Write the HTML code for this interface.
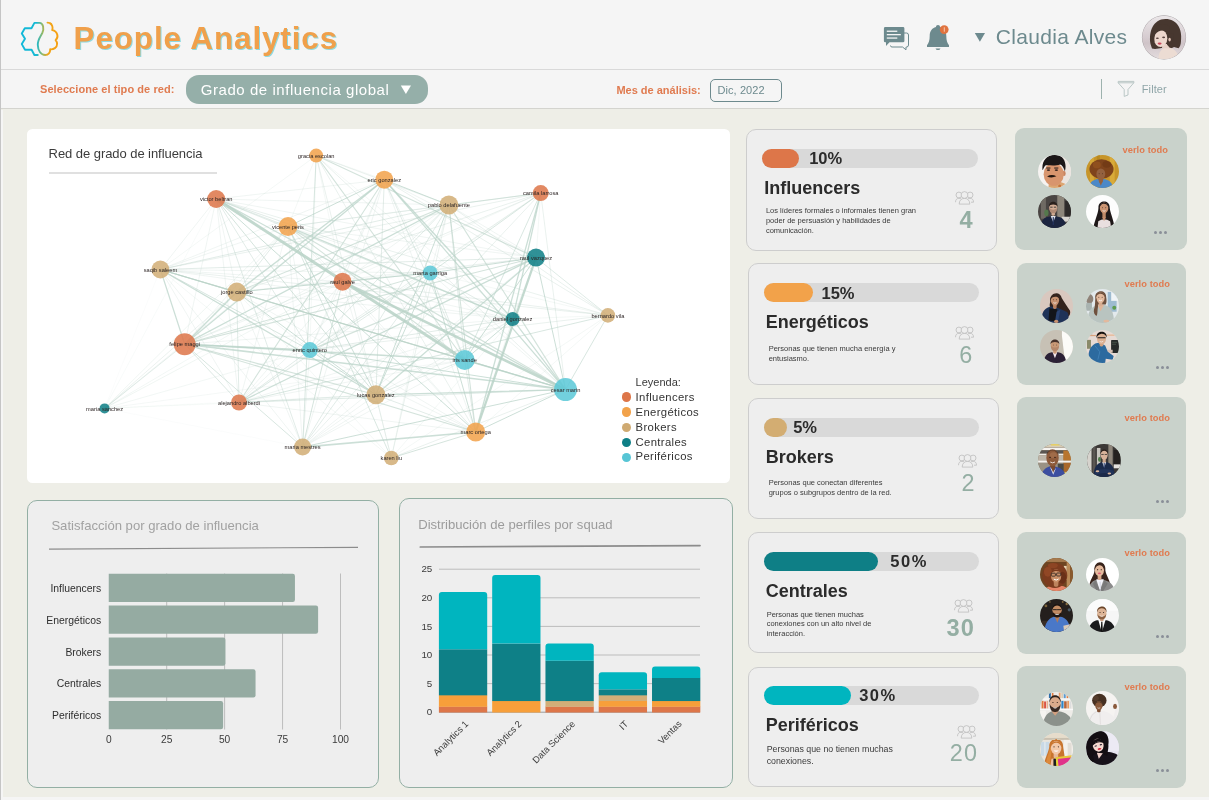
<!DOCTYPE html><html><head><meta charset="utf-8"><title>People Analytics</title><style>
*{box-sizing:border-box;margin:0;padding:0}
html,body{width:1209px;height:800px;overflow:hidden}
body{background:#eeeee7;font-family:"Liberation Sans",sans-serif;position:relative;color:#333}
#root{position:absolute;left:0;top:0;width:1209px;height:800px;will-change:transform}
.abs{position:absolute}
.t{position:absolute;white-space:nowrap;line-height:1}
#hdr{left:0;top:0;width:1209px;height:69.6px;background:#f5f5f5;border-bottom:1px solid #d9d9d9}
#sub{left:0;top:69.6px;width:1209px;height:39.4px;background:#f5f5f5;border-bottom:1px solid #d4d4cf}
#lb{left:0;top:0;width:1.05px;height:800px;background:#c5c5c5}
#lb2{left:1px;top:109.6px;width:2px;height:691px;background:#f5f5f5}
#bb{left:0;top:797.2px;width:1209px;height:3px;background:#f5f5f5}
.panel{position:absolute;background:#eeeeee;border:1px solid #93afa4;border-radius:10px}
.card{position:absolute;background:#eeeeee;border:1px solid #cdcdcd;border-radius:10px}
.avp{position:absolute;background:#c9d2cb;border-radius:9px}
.track{position:absolute;height:19.5px;border-radius:10px;background:#d9d9d9}
.fill{position:absolute;height:19.5px;border-radius:9.5px}
.pct{font-size:16.5px;font-weight:700;color:#2b2b2b}
.ttl{font-size:18px;font-weight:700;color:#2b2b2b}
.desc{position:absolute;font-size:7.5px;line-height:9.8px;color:#3a3a3a;white-space:nowrap}
.num{color:#94aea3}
.verlo{font-size:9.3px;font-weight:700;color:#e07b50;letter-spacing:.08px}
.dot{position:absolute;width:3px;height:3px;border-radius:50%;background:#8a8f98}
.face{position:absolute;border-radius:50%;overflow:hidden}
</style></head><body><div id="root">
<div class="abs" id="hdr"></div><div class="abs" id="sub"></div>
<svg class="abs" style="left:15px;top:15px" width="50" height="47" viewBox="15 15 50 47" fill="none">
<defs><linearGradient id="lg" gradientUnits="userSpaceOnUse" x1="21" y1="0" x2="58" y2="0">
<stop offset="0" stop-color="#12b8d9"/><stop offset=".42" stop-color="#18b9d3"/><stop offset=".58" stop-color="#93b866"/><stop offset=".72" stop-color="#f0a51a"/><stop offset="1" stop-color="#f6a013"/></linearGradient></defs>
<path d="M37.8 55 H34.4 L31.6 49.7 H25 L21.8 44.1 L25 38.8 L21.8 33.5 L24.8 28.2 H31.5 L34.4 22.9 H39.5 C43.5 23 44.2 29 42.3 33 C40.5 36.5 37.6 39.5 37.8 45 C38 51 41 55 45.2 55 C48.5 55 50.3 52.5 50.2 49.3 C53.5 49.8 57.2 47.5 57.1 43.9 C57.1 42.3 56.3 41.1 55.6 40.2 C57.3 38.8 57.8 36.8 57.3 34.8 C56.6 32 54.6 30.4 52.2 30.1 C53.2 27.5 52.2 24 49.6 23 C48.9 22.7 48.2 22.6 47.5 22.6" stroke="url(#lg)" stroke-width="1.9" stroke-linecap="round" stroke-linejoin="round"/>
</svg>
<div class="t" style="left:73.6px;top:22.6px;font-size:31.4px;font-weight:700;letter-spacing:.9px;color:#f0a04b;text-shadow:1px 1.2px 0 #8fd9e0">People Analytics</div>
<svg class="abs" style="left:880px;top:22px" width="34" height="32" viewBox="880 22 34 32">
<path d="M890 33 H906.5 Q908.5 33 908.5 35 V45 Q908.5 47 906.5 47 H906 V49.8 L902.5 47 H892 Q890.5 47 890.5 45.5" fill="none" stroke="#6d8a8e" stroke-width="1"/>
<path d="M885.3 27 H903 Q904.4 27 904.4 28.4 V40.9 Q904.4 42.3 903 42.3 H889.5 L886 46 V42.3 H885.3 Q883.9 42.3 883.9 40.9 V28.4 Q883.9 27 885.3 27 Z" fill="#6d8a8e"/>
<rect x="886.8" y="30.6" width="10.5" height="1.3" fill="#f5f5f5"/><rect x="886.8" y="34" width="14" height="1.3" fill="#f5f5f5"/><rect x="886.8" y="37.4" width="10.5" height="1.3" fill="#f5f5f5"/>
</svg>
<svg class="abs" style="left:924px;top:22px" width="30" height="32" viewBox="924 22 30 32">
<path d="M938 25 C939.3 25 940 25.8 940 27 C944.2 28 946.3 31.5 946.3 36 C946.3 40.5 947.3 43 949 45.3 V47 H927 V45.3 C928.7 43 929.7 40.5 929.7 36 C929.7 31.5 931.8 28 936 27 C936 25.8 936.7 25 938 25 Z" fill="#6d8a8e"/>
<path d="M935.5 48.4 H940.5 Q940 49.9 938 49.9 Q936 49.9 935.5 48.4 Z" fill="#6d8a8e"/>
<circle cx="944.2" cy="29.6" r="4.4" fill="#e0733f"/><rect x="943.8" y="27.3" width="1" height="4.4" fill="#f7c9b0"/>
</svg>
<svg class="abs" style="left:974px;top:32px" width="12" height="11"><path d="M0.8 0.9 H11 L5.9 9.7 Z" fill="#6d8a8e"/></svg>
<div class="t" style="left:995.8px;top:26px;font-size:21px;letter-spacing:.34px;color:#6d8a8e">Claudia Alves</div>
<svg class="abs" style="left:1141px;top:14px" width="46" height="47" viewBox="0 0 46 47">
<defs><clipPath id="cpa"><circle cx="23" cy="23.35" r="21.7"/></clipPath>
<linearGradient id="abg" x1="0" y1="0" x2="0" y2="1"><stop offset="0" stop-color="#ece8ea"/><stop offset=".5" stop-color="#d6ccd0"/><stop offset=".62" stop-color="#cfc4c8"/><stop offset="1" stop-color="#e6dfe1"/></linearGradient></defs>
<circle cx="23" cy="23.35" r="22.05" fill="#a39da0"/>
<g clip-path="url(#cpa)"><rect width="46" height="47" fill="url(#abg)"/>
<path d="M9.5 30 C7.5 18 12 5 24.5 5 C36 5 41.5 15 40 27 C39.8 30.5 39 33 37.5 34.2 L33 33 L29 35 L24 33.5 L14 35 L11 34.5 Z" fill="#47372f"/>
<path d="M17.5 47 C17 39 20 33.5 27 33.6 C33 33.8 37 38 38.5 47 Z" fill="#ecdcd3"/>
<path d="M21 34 C21 31 23 29.5 26 30 L29 34.5 Z" fill="#e6d0c6"/>
<ellipse cx="19.6" cy="24.3" rx="6.7" ry="8.6" fill="#edd7cd"/>
<path d="M11.5 23 C11 14 17 9.5 25 10.5 C30 11.5 29 17 27.5 19 C24 15.5 17.5 15.5 14.2 20.5 C13.5 22 13.2 25 13.4 28 L11.8 28 Z" fill="#47372f"/>
<path d="M26.3 19 C27.5 22 27.5 27 26 31 L31 33 L33 20 Z" fill="#47372f"/>
<ellipse cx="28.6" cy="25.6" rx="1.2" ry="1.9" fill="#e3c4b8"/>
<ellipse cx="16.4" cy="24.3" rx="1.5" ry=".8" fill="#5a4440"/><ellipse cx="22.6" cy="23.4" rx="1.5" ry=".8" fill="#5a4440"/>
<ellipse cx="18.6" cy="29.6" rx="2" ry="1.15" fill="#c8485a"/>
</g></svg>
<div class="t" style="left:40px;top:84.1px;font-size:11px;font-weight:700;letter-spacing:.07px;color:#e07b50">Seleccione el tipo de red:</div>
<div class="abs" style="left:186px;top:75px;width:241.5px;height:28.5px;border-radius:13px;background:#95afa9"></div>
<div class="t" style="left:200.8px;top:82px;font-size:15px;letter-spacing:.55px;color:#fff">Grado de influencia global</div>
<svg class="abs" style="left:400px;top:85px" width="12" height="10"><path d="M0.8 0.5 H11 L5.9 9 Z" fill="#fff"/></svg>
<div class="t" style="left:616.4px;top:85.3px;font-size:11px;font-weight:700;color:#e07b50">Mes de análisis:</div>
<div class="abs" style="left:710px;top:78.6px;width:71.5px;height:23.2px;border:1px solid #6d8a8e;border-radius:5px"></div>
<div class="t" style="left:717.4px;top:85.1px;font-size:11px;letter-spacing:.1px;color:#6d8a8e">Dic, 2022</div>
<div class="abs" style="left:1101px;top:79px;width:1px;height:20px;background:#9db2ae"></div>
<svg class="abs" style="left:1116px;top:80px" width="20" height="18" viewBox="1116 80 20 18" fill="none"><path d="M1118.2 81.4 H1133.8 V82.8 L1128 89.5 V95 L1124.2 96.4 V89.5 L1118.2 82.8 Z M1118.2 82.8 H1133.8" stroke="#b3c2c1" stroke-width=".9"/></svg>
<div class="t" style="left:1141.8px;top:83.6px;font-size:11px;letter-spacing:.1px;color:#8fa5a8">Filter</div>
<div class="abs" id="bb"></div><div class="abs" id="lb2"></div><div class="abs" id="lb"></div>
<div class="abs" style="left:27px;top:128.5px;width:702.8px;height:354.3px;background:#fff;border-radius:5.5px"></div>
<svg class="abs" style="left:27px;top:129px" width="703" height="354" viewBox="27 129 703 354">
<g stroke="#b9d2c7" stroke-linecap="round" fill="none">
<path d="M316.2 155.6L384.3 179.7" stroke-width="0.6" stroke-opacity="0.27"/>
<path d="M316.2 155.6L448.9 205" stroke-width="0.8" stroke-opacity="0.39"/>
<path d="M316.2 155.6L288 226.6" stroke-width="0.6" stroke-opacity="0.27"/>
<path d="M316.2 155.6L160.4 269.5" stroke-width="0.6" stroke-opacity="0.27"/>
<path d="M316.2 155.6L342.5 281.7" stroke-width="0.6" stroke-opacity="0.27"/>
<path d="M316.2 155.6L512.6 319.1" stroke-width="0.6" stroke-opacity="0.27"/>
<path d="M316.2 155.6L309.8 350.1" stroke-width="0.6" stroke-opacity="0.27"/>
<path d="M316.2 155.6L565.5 389.6" stroke-width="0.8" stroke-opacity="0.39"/>
<path d="M316.2 155.6L475.7 432" stroke-width="0.8" stroke-opacity="0.39"/>
<path d="M316.2 155.6L302.6 447.1" stroke-width="1.0" stroke-opacity="0.54"/>
<path d="M316.2 155.6L391.3 458" stroke-width="0.8" stroke-opacity="0.39"/>
<path d="M384.3 179.7L216.2 199" stroke-width="0.6" stroke-opacity="0.36"/>
<path d="M384.3 179.7L448.9 205" stroke-width="1.0" stroke-opacity="0.72"/>
<path d="M384.3 179.7L288 226.6" stroke-width="1.0" stroke-opacity="0.72"/>
<path d="M384.3 179.7L536 257.6" stroke-width="0.6" stroke-opacity="0.36"/>
<path d="M384.3 179.7L160.4 269.5" stroke-width="0.6" stroke-opacity="0.36"/>
<path d="M384.3 179.7L430.2 273" stroke-width="0.6" stroke-opacity="0.36"/>
<path d="M384.3 179.7L342.5 281.7" stroke-width="0.6" stroke-opacity="0.36"/>
<path d="M384.3 179.7L607.9 315.4" stroke-width="0.8" stroke-opacity="0.39"/>
<path d="M384.3 179.7L309.8 350.1" stroke-width="0.6" stroke-opacity="0.36"/>
<path d="M384.3 179.7L464.7 360" stroke-width="0.8" stroke-opacity="0.52"/>
<path d="M384.3 179.7L375.9 394.8" stroke-width="0.8" stroke-opacity="0.52"/>
<path d="M384.3 179.7L104.6 408.4" stroke-width="0.6" stroke-opacity="0.3"/>
<path d="M384.3 179.7L475.7 432" stroke-width="0.6" stroke-opacity="0.36"/>
<path d="M384.3 179.7L302.6 447.1" stroke-width="0.6" stroke-opacity="0.36"/>
<path d="M216.2 199L448.9 205" stroke-width="0.6" stroke-opacity="0.36"/>
<path d="M216.2 199L288 226.6" stroke-width="0.8" stroke-opacity="0.52"/>
<path d="M216.2 199L536 257.6" stroke-width="0.6" stroke-opacity="0.36"/>
<path d="M216.2 199L160.4 269.5" stroke-width="0.6" stroke-opacity="0.36"/>
<path d="M216.2 199L430.2 273" stroke-width="0.8" stroke-opacity="0.52"/>
<path d="M216.2 199L342.5 281.7" stroke-width="0.6" stroke-opacity="0.36"/>
<path d="M216.2 199L236.8 292.1" stroke-width="0.6" stroke-opacity="0.36"/>
<path d="M216.2 199L512.6 319.1" stroke-width="0.8" stroke-opacity="0.52"/>
<path d="M216.2 199L607.9 315.4" stroke-width="0.8" stroke-opacity="0.39"/>
<path d="M216.2 199L184.7 344.2" stroke-width="0.6" stroke-opacity="0.36"/>
<path d="M216.2 199L309.8 350.1" stroke-width="0.8" stroke-opacity="0.52"/>
<path d="M216.2 199L239 402.5" stroke-width="0.6" stroke-opacity="0.36"/>
<path d="M216.2 199L104.6 408.4" stroke-width="0.5" stroke-opacity="0.2"/>
<path d="M216.2 199L475.7 432" stroke-width="1.0" stroke-opacity="0.72"/>
<path d="M216.2 199L302.6 447.1" stroke-width="0.8" stroke-opacity="0.52"/>
<path d="M448.9 205L540.7 193.1" stroke-width="1.0" stroke-opacity="0.54"/>
<path d="M448.9 205L288 226.6" stroke-width="0.6" stroke-opacity="0.36"/>
<path d="M448.9 205L536 257.6" stroke-width="0.6" stroke-opacity="0.36"/>
<path d="M448.9 205L160.4 269.5" stroke-width="0.8" stroke-opacity="0.52"/>
<path d="M448.9 205L430.2 273" stroke-width="0.6" stroke-opacity="0.36"/>
<path d="M448.9 205L342.5 281.7" stroke-width="0.6" stroke-opacity="0.36"/>
<path d="M448.9 205L607.9 315.4" stroke-width="0.8" stroke-opacity="0.39"/>
<path d="M448.9 205L309.8 350.1" stroke-width="0.8" stroke-opacity="0.52"/>
<path d="M448.9 205L464.7 360" stroke-width="0.8" stroke-opacity="0.52"/>
<path d="M448.9 205L375.9 394.8" stroke-width="1.0" stroke-opacity="0.72"/>
<path d="M448.9 205L239 402.5" stroke-width="0.6" stroke-opacity="0.36"/>
<path d="M448.9 205L104.6 408.4" stroke-width="0.6" stroke-opacity="0.3"/>
<path d="M448.9 205L302.6 447.1" stroke-width="0.8" stroke-opacity="0.52"/>
<path d="M448.9 205L391.3 458" stroke-width="0.8" stroke-opacity="0.39"/>
<path d="M540.7 193.1L288 226.6" stroke-width="0.8" stroke-opacity="0.39"/>
<path d="M540.7 193.1L536 257.6" stroke-width="0.6" stroke-opacity="0.27"/>
<path d="M540.7 193.1L160.4 269.5" stroke-width="0.8" stroke-opacity="0.39"/>
<path d="M540.7 193.1L430.2 273" stroke-width="1.0" stroke-opacity="0.54"/>
<path d="M540.7 193.1L342.5 281.7" stroke-width="0.6" stroke-opacity="0.27"/>
<path d="M540.7 193.1L236.8 292.1" stroke-width="0.8" stroke-opacity="0.39"/>
<path d="M540.7 193.1L184.7 344.2" stroke-width="0.8" stroke-opacity="0.39"/>
<path d="M540.7 193.1L309.8 350.1" stroke-width="0.8" stroke-opacity="0.39"/>
<path d="M540.7 193.1L464.7 360" stroke-width="1.0" stroke-opacity="0.54"/>
<path d="M540.7 193.1L565.5 389.6" stroke-width="0.8" stroke-opacity="0.39"/>
<path d="M540.7 193.1L239 402.5" stroke-width="0.6" stroke-opacity="0.27"/>
<path d="M540.7 193.1L302.6 447.1" stroke-width="0.8" stroke-opacity="0.39"/>
<path d="M288 226.6L536 257.6" stroke-width="0.6" stroke-opacity="0.36"/>
<path d="M288 226.6L160.4 269.5" stroke-width="0.6" stroke-opacity="0.36"/>
<path d="M288 226.6L430.2 273" stroke-width="0.6" stroke-opacity="0.36"/>
<path d="M288 226.6L342.5 281.7" stroke-width="0.6" stroke-opacity="0.36"/>
<path d="M288 226.6L236.8 292.1" stroke-width="0.8" stroke-opacity="0.52"/>
<path d="M288 226.6L184.7 344.2" stroke-width="0.6" stroke-opacity="0.36"/>
<path d="M288 226.6L309.8 350.1" stroke-width="0.6" stroke-opacity="0.36"/>
<path d="M288 226.6L375.9 394.8" stroke-width="1.0" stroke-opacity="0.72"/>
<path d="M288 226.6L239 402.5" stroke-width="0.6" stroke-opacity="0.36"/>
<path d="M288 226.6L104.6 408.4" stroke-width="0.6" stroke-opacity="0.35"/>
<path d="M288 226.6L475.7 432" stroke-width="0.6" stroke-opacity="0.36"/>
<path d="M288 226.6L302.6 447.1" stroke-width="0.6" stroke-opacity="0.36"/>
<path d="M288 226.6L391.3 458" stroke-width="1.0" stroke-opacity="0.54"/>
<path d="M536 257.6L160.4 269.5" stroke-width="0.8" stroke-opacity="0.52"/>
<path d="M536 257.6L430.2 273" stroke-width="1.0" stroke-opacity="0.72"/>
<path d="M536 257.6L342.5 281.7" stroke-width="0.6" stroke-opacity="0.36"/>
<path d="M536 257.6L236.8 292.1" stroke-width="0.6" stroke-opacity="0.36"/>
<path d="M536 257.6L512.6 319.1" stroke-width="0.6" stroke-opacity="0.36"/>
<path d="M536 257.6L464.7 360" stroke-width="1.0" stroke-opacity="0.72"/>
<path d="M536 257.6L565.5 389.6" stroke-width="1.0" stroke-opacity="0.72"/>
<path d="M536 257.6L302.6 447.1" stroke-width="0.6" stroke-opacity="0.36"/>
<path d="M160.4 269.5L430.2 273" stroke-width="0.6" stroke-opacity="0.36"/>
<path d="M160.4 269.5L342.5 281.7" stroke-width="0.6" stroke-opacity="0.36"/>
<path d="M160.4 269.5L512.6 319.1" stroke-width="0.6" stroke-opacity="0.36"/>
<path d="M160.4 269.5L607.9 315.4" stroke-width="0.8" stroke-opacity="0.39"/>
<path d="M160.4 269.5L239 402.5" stroke-width="0.6" stroke-opacity="0.36"/>
<path d="M160.4 269.5L104.6 408.4" stroke-width="0.5" stroke-opacity="0.12"/>
<path d="M160.4 269.5L302.6 447.1" stroke-width="0.6" stroke-opacity="0.36"/>
<path d="M160.4 269.5L391.3 458" stroke-width="0.6" stroke-opacity="0.27"/>
<path d="M430.2 273L342.5 281.7" stroke-width="0.8" stroke-opacity="0.52"/>
<path d="M430.2 273L236.8 292.1" stroke-width="1.0" stroke-opacity="0.72"/>
<path d="M430.2 273L512.6 319.1" stroke-width="0.8" stroke-opacity="0.52"/>
<path d="M430.2 273L607.9 315.4" stroke-width="0.6" stroke-opacity="0.27"/>
<path d="M430.2 273L309.8 350.1" stroke-width="0.8" stroke-opacity="0.52"/>
<path d="M430.2 273L464.7 360" stroke-width="0.8" stroke-opacity="0.52"/>
<path d="M430.2 273L565.5 389.6" stroke-width="0.6" stroke-opacity="0.36"/>
<path d="M430.2 273L375.9 394.8" stroke-width="1.0" stroke-opacity="0.72"/>
<path d="M430.2 273L239 402.5" stroke-width="0.8" stroke-opacity="0.52"/>
<path d="M430.2 273L475.7 432" stroke-width="1.0" stroke-opacity="0.72"/>
<path d="M430.2 273L302.6 447.1" stroke-width="0.8" stroke-opacity="0.52"/>
<path d="M430.2 273L391.3 458" stroke-width="0.6" stroke-opacity="0.27"/>
<path d="M342.5 281.7L236.8 292.1" stroke-width="0.6" stroke-opacity="0.36"/>
<path d="M342.5 281.7L512.6 319.1" stroke-width="0.6" stroke-opacity="0.36"/>
<path d="M342.5 281.7L607.9 315.4" stroke-width="0.8" stroke-opacity="0.39"/>
<path d="M342.5 281.7L184.7 344.2" stroke-width="0.6" stroke-opacity="0.36"/>
<path d="M342.5 281.7L309.8 350.1" stroke-width="0.6" stroke-opacity="0.36"/>
<path d="M342.5 281.7L464.7 360" stroke-width="0.6" stroke-opacity="0.36"/>
<path d="M342.5 281.7L375.9 394.8" stroke-width="0.6" stroke-opacity="0.36"/>
<path d="M342.5 281.7L239 402.5" stroke-width="0.6" stroke-opacity="0.36"/>
<path d="M342.5 281.7L104.6 408.4" stroke-width="0.6" stroke-opacity="0.35"/>
<path d="M342.5 281.7L475.7 432" stroke-width="0.6" stroke-opacity="0.36"/>
<path d="M236.8 292.1L512.6 319.1" stroke-width="0.6" stroke-opacity="0.36"/>
<path d="M236.8 292.1L309.8 350.1" stroke-width="0.6" stroke-opacity="0.36"/>
<path d="M236.8 292.1L375.9 394.8" stroke-width="1.0" stroke-opacity="0.72"/>
<path d="M236.8 292.1L239 402.5" stroke-width="0.8" stroke-opacity="0.52"/>
<path d="M236.8 292.1L104.6 408.4" stroke-width="0.7" stroke-opacity="0.4"/>
<path d="M236.8 292.1L475.7 432" stroke-width="0.6" stroke-opacity="0.36"/>
<path d="M236.8 292.1L302.6 447.1" stroke-width="0.6" stroke-opacity="0.36"/>
<path d="M236.8 292.1L391.3 458" stroke-width="0.6" stroke-opacity="0.27"/>
<path d="M512.6 319.1L607.9 315.4" stroke-width="0.6" stroke-opacity="0.27"/>
<path d="M512.6 319.1L184.7 344.2" stroke-width="0.6" stroke-opacity="0.36"/>
<path d="M512.6 319.1L309.8 350.1" stroke-width="0.8" stroke-opacity="0.52"/>
<path d="M512.6 319.1L464.7 360" stroke-width="1.0" stroke-opacity="0.72"/>
<path d="M512.6 319.1L375.9 394.8" stroke-width="0.6" stroke-opacity="0.36"/>
<path d="M512.6 319.1L239 402.5" stroke-width="0.6" stroke-opacity="0.36"/>
<path d="M512.6 319.1L475.7 432" stroke-width="0.6" stroke-opacity="0.36"/>
<path d="M512.6 319.1L302.6 447.1" stroke-width="0.6" stroke-opacity="0.36"/>
<path d="M512.6 319.1L391.3 458" stroke-width="0.6" stroke-opacity="0.27"/>
<path d="M607.9 315.4L309.8 350.1" stroke-width="0.8" stroke-opacity="0.39"/>
<path d="M607.9 315.4L239 402.5" stroke-width="1.0" stroke-opacity="0.54"/>
<path d="M607.9 315.4L475.7 432" stroke-width="0.6" stroke-opacity="0.27"/>
<path d="M607.9 315.4L391.3 458" stroke-width="0.6" stroke-opacity="0.27"/>
<path d="M184.7 344.2L104.6 408.4" stroke-width="0.8" stroke-opacity="0.5"/>
<path d="M309.8 350.1L464.7 360" stroke-width="0.6" stroke-opacity="0.36"/>
<path d="M309.8 350.1L565.5 389.6" stroke-width="1.0" stroke-opacity="0.72"/>
<path d="M309.8 350.1L375.9 394.8" stroke-width="1.0" stroke-opacity="0.72"/>
<path d="M309.8 350.1L239 402.5" stroke-width="0.8" stroke-opacity="0.52"/>
<path d="M309.8 350.1L104.6 408.4" stroke-width="0.6" stroke-opacity="0.3"/>
<path d="M309.8 350.1L475.7 432" stroke-width="0.6" stroke-opacity="0.36"/>
<path d="M309.8 350.1L302.6 447.1" stroke-width="0.6" stroke-opacity="0.36"/>
<path d="M464.7 360L375.9 394.8" stroke-width="0.8" stroke-opacity="0.52"/>
<path d="M464.7 360L239 402.5" stroke-width="0.6" stroke-opacity="0.36"/>
<path d="M464.7 360L104.6 408.4" stroke-width="0.6" stroke-opacity="0.25"/>
<path d="M464.7 360L475.7 432" stroke-width="0.8" stroke-opacity="0.52"/>
<path d="M464.7 360L302.6 447.1" stroke-width="0.6" stroke-opacity="0.36"/>
<path d="M565.5 389.6L239 402.5" stroke-width="0.8" stroke-opacity="0.52"/>
<path d="M565.5 389.6L104.6 408.4" stroke-width="0.5" stroke-opacity="0.15"/>
<path d="M565.5 389.6L475.7 432" stroke-width="1.0" stroke-opacity="0.72"/>
<path d="M565.5 389.6L302.6 447.1" stroke-width="1.0" stroke-opacity="0.72"/>
<path d="M565.5 389.6L391.3 458" stroke-width="0.8" stroke-opacity="0.39"/>
<path d="M375.9 394.8L239 402.5" stroke-width="0.8" stroke-opacity="0.52"/>
<path d="M375.9 394.8L104.6 408.4" stroke-width="0.5" stroke-opacity="0.15"/>
<path d="M375.9 394.8L475.7 432" stroke-width="0.8" stroke-opacity="0.52"/>
<path d="M375.9 394.8L302.6 447.1" stroke-width="0.6" stroke-opacity="0.36"/>
<path d="M375.9 394.8L391.3 458" stroke-width="0.6" stroke-opacity="0.27"/>
<path d="M239 402.5L104.6 408.4" stroke-width="0.5" stroke-opacity="0.15"/>
<path d="M239 402.5L475.7 432" stroke-width="0.6" stroke-opacity="0.36"/>
<path d="M104.6 408.4L302.6 447.1" stroke-width="0.5" stroke-opacity="0.12"/>
<path d="M316.2 155.6L536 257.6" stroke-width="1.15" stroke-opacity="0.62"/>
<path d="M316.2 155.6L464.7 360" stroke-width="1.07" stroke-opacity="0.62"/>
<path d="M384.3 179.7L236.8 292.1" stroke-width="1.39" stroke-opacity="0.72"/>
<path d="M384.3 179.7L512.6 319.1" stroke-width="1.48" stroke-opacity="0.72"/>
<path d="M384.3 179.7L184.7 344.2" stroke-width="1.23" stroke-opacity="0.72"/>
<path d="M384.3 179.7L565.5 389.6" stroke-width="1.23" stroke-opacity="0.72"/>
<path d="M384.3 179.7L239 402.5" stroke-width="1.07" stroke-opacity="0.62"/>
<path d="M216.2 199L464.7 360" stroke-width="3.0" stroke-opacity="0.85"/>
<path d="M216.2 199L565.5 389.6" stroke-width="1.31" stroke-opacity="0.72"/>
<path d="M216.2 199L375.9 394.8" stroke-width="0.98" stroke-opacity="0.62"/>
<path d="M448.9 205L236.8 292.1" stroke-width="1.07" stroke-opacity="0.62"/>
<path d="M448.9 205L184.7 344.2" stroke-width="1.31" stroke-opacity="0.72"/>
<path d="M448.9 205L565.5 389.6" stroke-width="1.15" stroke-opacity="0.62"/>
<path d="M448.9 205L475.7 432" stroke-width="1.07" stroke-opacity="0.62"/>
<path d="M540.7 193.1L512.6 319.1" stroke-width="1.31" stroke-opacity="0.72"/>
<path d="M540.7 193.1L475.7 432" stroke-width="1.31" stroke-opacity="0.72"/>
<path d="M288 226.6L512.6 319.1" stroke-width="1.31" stroke-opacity="0.72"/>
<path d="M288 226.6L464.7 360" stroke-width="1.07" stroke-opacity="0.62"/>
<path d="M288 226.6L565.5 389.6" stroke-width="1.15" stroke-opacity="0.62"/>
<path d="M536 257.6L607.9 315.4" stroke-width="0.74" stroke-opacity="0.62"/>
<path d="M536 257.6L184.7 344.2" stroke-width="1.07" stroke-opacity="0.62"/>
<path d="M536 257.6L309.8 350.1" stroke-width="1.15" stroke-opacity="0.62"/>
<path d="M536 257.6L375.9 394.8" stroke-width="1.23" stroke-opacity="0.72"/>
<path d="M536 257.6L239 402.5" stroke-width="1.23" stroke-opacity="0.72"/>
<path d="M536 257.6L475.7 432" stroke-width="2.2" stroke-opacity="0.85"/>
<path d="M160.4 269.5L236.8 292.1" stroke-width="1.23" stroke-opacity="0.72"/>
<path d="M160.4 269.5L184.7 344.2" stroke-width="1.23" stroke-opacity="0.72"/>
<path d="M160.4 269.5L309.8 350.1" stroke-width="0.9" stroke-opacity="0.62"/>
<path d="M160.4 269.5L464.7 360" stroke-width="1.15" stroke-opacity="0.62"/>
<path d="M160.4 269.5L565.5 389.6" stroke-width="0.98" stroke-opacity="0.62"/>
<path d="M160.4 269.5L375.9 394.8" stroke-width="1.31" stroke-opacity="0.72"/>
<path d="M430.2 273L184.7 344.2" stroke-width="0.98" stroke-opacity="0.62"/>
<path d="M342.5 281.7L565.5 389.6" stroke-width="2.6" stroke-opacity="0.85"/>
<path d="M342.5 281.7L302.6 447.1" stroke-width="0.98" stroke-opacity="0.62"/>
<path d="M236.8 292.1L184.7 344.2" stroke-width="1.48" stroke-opacity="0.72"/>
<path d="M236.8 292.1L565.5 389.6" stroke-width="1.07" stroke-opacity="0.62"/>
<path d="M512.6 319.1L565.5 389.6" stroke-width="1.23" stroke-opacity="0.72"/>
<path d="M607.9 315.4L565.5 389.6" stroke-width="0.9" stroke-opacity="0.62"/>
<path d="M184.7 344.2L309.8 350.1" stroke-width="1.64" stroke-opacity="0.72"/>
<path d="M184.7 344.2L464.7 360" stroke-width="1.31" stroke-opacity="0.72"/>
<path d="M184.7 344.2L565.5 389.6" stroke-width="1.64" stroke-opacity="0.72"/>
<path d="M184.7 344.2L375.9 394.8" stroke-width="1.15" stroke-opacity="0.62"/>
<path d="M184.7 344.2L239 402.5" stroke-width="0.82" stroke-opacity="0.62"/>
<path d="M184.7 344.2L475.7 432" stroke-width="1.07" stroke-opacity="0.62"/>
<path d="M184.7 344.2L302.6 447.1" stroke-width="0.9" stroke-opacity="0.62"/>
<path d="M464.7 360L565.5 389.6" stroke-width="1.31" stroke-opacity="0.72"/>
<path d="M565.5 389.6L375.9 394.8" stroke-width="1.31" stroke-opacity="0.72"/>
<path d="M475.7 432L302.6 447.1" stroke-width="1.64" stroke-opacity="0.72"/>
<path d="M475.7 432L391.3 458" stroke-width="0.98" stroke-opacity="0.62"/>
</g>
<circle cx="316.2" cy="155.6" r="7" fill="#f2a24a" fill-opacity=".86"/>
<circle cx="384.3" cy="179.7" r="9" fill="#f2a24a" fill-opacity=".86"/>
<circle cx="216.2" cy="199" r="9" fill="#dd7649" fill-opacity=".86"/>
<circle cx="448.9" cy="205" r="9.5" fill="#d2ad76" fill-opacity=".86"/>
<circle cx="540.7" cy="193.1" r="8" fill="#dd7649" fill-opacity=".86"/>
<circle cx="288" cy="226.6" r="9.5" fill="#f2a24a" fill-opacity=".86"/>
<circle cx="536" cy="257.6" r="9" fill="#0e7f86" fill-opacity=".86"/>
<circle cx="160.4" cy="269.5" r="9" fill="#d2ad76" fill-opacity=".86"/>
<circle cx="430.2" cy="273" r="7.5" fill="#5bc8d7" fill-opacity=".86"/>
<circle cx="342.5" cy="281.7" r="9" fill="#dd7649" fill-opacity=".86"/>
<circle cx="236.8" cy="292.1" r="9.5" fill="#d2ad76" fill-opacity=".86"/>
<circle cx="512.6" cy="319.1" r="7" fill="#0e7f86" fill-opacity=".86"/>
<circle cx="607.9" cy="315.4" r="7.3" fill="#d2ad76" fill-opacity=".86"/>
<circle cx="184.7" cy="344.2" r="11" fill="#dd7649" fill-opacity=".86"/>
<circle cx="309.8" cy="350.1" r="8" fill="#5bc8d7" fill-opacity=".86"/>
<circle cx="464.7" cy="360" r="10" fill="#5bc8d7" fill-opacity=".86"/>
<circle cx="565.5" cy="389.6" r="11.5" fill="#5bc8d7" fill-opacity=".86"/>
<circle cx="375.9" cy="394.8" r="9.5" fill="#d2ad76" fill-opacity=".86"/>
<circle cx="239" cy="402.5" r="8" fill="#dd7649" fill-opacity=".86"/>
<circle cx="104.6" cy="408.4" r="5" fill="#0e7f86" fill-opacity=".86"/>
<circle cx="475.7" cy="432" r="9.5" fill="#f2a24a" fill-opacity=".86"/>
<circle cx="302.6" cy="447.1" r="8.5" fill="#d2ad76" fill-opacity=".86"/>
<circle cx="391.3" cy="458" r="7.3" fill="#d2ad76" fill-opacity=".86"/>
<g font-family="Liberation Sans, sans-serif" font-size="5.7" fill="#2e2626" text-anchor="middle">
<text x="316.2" y="157.7">gracia escolan</text>
<text x="384.3" y="181.79999999999998">eric gonzalez</text>
<text x="216.2" y="201.1">victor beltran</text>
<text x="448.9" y="207.1">pablo delafuente</text>
<text x="540.7" y="195.2">camila larrosa</text>
<text x="288" y="228.7">vicente peris</text>
<text x="536" y="259.70000000000005">raul vazquez</text>
<text x="160.4" y="271.6">saqib saleem</text>
<text x="430.2" y="275.1">marta garriga</text>
<text x="342.5" y="283.8">raul galve</text>
<text x="236.8" y="294.20000000000005">jorge castillo</text>
<text x="512.6" y="321.20000000000005">daniel gonzalez</text>
<text x="607.9" y="317.5">bernardo vila</text>
<text x="184.7" y="346.3">felipe maggi</text>
<text x="309.8" y="352.20000000000005">enric quintero</text>
<text x="464.7" y="362.1">iris sande</text>
<text x="565.5" y="391.70000000000005">cesar marin</text>
<text x="375.9" y="396.90000000000003">lucas gonzalez</text>
<text x="239" y="404.6">alejandro alberdi</text>
<text x="104.6" y="410.5">maria sanchez</text>
<text x="475.7" y="434.1">marc ortega</text>
<text x="302.6" y="449.20000000000005">maria mestres</text>
<text x="391.3" y="460.1">karen liu</text>
</g></svg>
<div class="t" style="left:48.6px;top:147.4px;font-size:13px;letter-spacing:-.06px;color:#3c3c3c">Red de grado de influencia</div>
<div class="abs" style="left:49px;top:172.3px;width:168px;height:1.6px;background:#e0e0e0"></div>
<div class="t" style="left:635.6px;top:376.8px;font-size:11px;letter-spacing:0;color:#3a3a3a">Leyenda:</div>
<div class="abs" style="left:621.8px;top:392.3px;width:9.4px;height:9.4px;border-radius:50%;background:#dd7649"></div>
<div class="t" style="left:635.6px;top:391.9px;font-size:11.3px;letter-spacing:.35px;color:#333">Influencers</div>
<div class="abs" style="left:621.8px;top:407.45px;width:9.4px;height:9.4px;border-radius:50%;background:#f2a24a"></div>
<div class="t" style="left:635.6px;top:407.04999999999995px;font-size:11.3px;letter-spacing:.35px;color:#333">Energéticos</div>
<div class="abs" style="left:621.8px;top:422.6px;width:9.4px;height:9.4px;border-radius:50%;background:#cfaa72"></div>
<div class="t" style="left:635.6px;top:422.04999999999995px;font-size:11.3px;letter-spacing:.35px;color:#333">Brokers</div>
<div class="abs" style="left:621.8px;top:437.75px;width:9.4px;height:9.4px;border-radius:50%;background:#0e7f86"></div>
<div class="t" style="left:635.6px;top:437.15px;font-size:11.3px;letter-spacing:.35px;color:#333">Centrales</div>
<div class="abs" style="left:621.8px;top:452.90000000000003px;width:9.4px;height:9.4px;border-radius:50%;background:#57c5d5"></div>
<div class="t" style="left:635.6px;top:451.04999999999995px;font-size:11.3px;letter-spacing:.35px;color:#333">Periféricos</div>
<div class="panel" style="left:27px;top:499.5px;width:351.6px;height:288px"></div>
<div class="t" style="left:51.4px;top:519px;font-size:13.1px;color:#a2a2a2">Satisfacción por grado de influencia</div>
<svg class="abs" style="left:45px;top:544px" width="320" height="8"><path d="M4 5.1 L313 3.4" stroke="#8c8c8c" stroke-width="1.1" fill="none"/></svg>
<svg class="abs" style="left:27px;top:499px" width="352" height="289" viewBox="27 499 352 289">
<rect x="166.19" y="573.5" width="1" height="156" fill="#bdbdbd"/>
<rect x="224.12" y="573.5" width="1" height="156" fill="#bdbdbd"/>
<rect x="282.06" y="573.5" width="1" height="156" fill="#bdbdbd"/>
<rect x="340.00" y="573.5" width="1" height="156" fill="#bdbdbd"/>
<path d="M108.75 573.75 H292.75 Q294.95 573.75 294.95 575.95 V599.8 Q294.95 602.0 292.75 602.0 H108.75 Z" fill="#95aba2"/>
<path d="M108.75 605.5 H315.93 Q318.12 605.5 318.12 607.7 V631.55 Q318.12 633.75 315.93 633.75 H108.75 Z" fill="#95aba2"/>
<path d="M108.75 637.5 H223.23 Q225.43 637.5 225.43 639.7 V663.55 Q225.43 665.75 223.23 665.75 H108.75 Z" fill="#95aba2"/>
<path d="M108.75 669.25 H253.35 Q255.55 669.25 255.55 671.45 V695.3 Q255.55 697.5 253.35 697.5 H108.75 Z" fill="#95aba2"/>
<path d="M108.75 701.0 H220.91 Q223.11 701.0 223.11 703.2 V727.05 Q223.11 729.25 220.91 729.25 H108.75 Z" fill="#95aba2"/>
</svg>
<div class="t" style="right:1107.8px;top:583.75px;font-size:10.4px;color:#2e2e2e">Influencers</div>
<div class="t" style="right:1107.8px;top:615.5px;font-size:10.4px;color:#2e2e2e">Energéticos</div>
<div class="t" style="right:1107.8px;top:647.5px;font-size:10.4px;color:#2e2e2e">Brokers</div>
<div class="t" style="right:1107.8px;top:679.25px;font-size:10.4px;color:#2e2e2e">Centrales</div>
<div class="t" style="right:1107.8px;top:711.0px;font-size:10.4px;color:#2e2e2e">Periféricos</div>
<div class="t" style="left:88.8px;width:40px;text-align:center;top:735.3px;font-size:10.2px;color:#3a3a3a">0</div>
<div class="t" style="left:146.7px;width:40px;text-align:center;top:735.3px;font-size:10.2px;color:#3a3a3a">25</div>
<div class="t" style="left:204.6px;width:40px;text-align:center;top:735.3px;font-size:10.2px;color:#3a3a3a">50</div>
<div class="t" style="left:262.6px;width:40px;text-align:center;top:735.3px;font-size:10.2px;color:#3a3a3a">75</div>
<div class="t" style="left:320.5px;width:40px;text-align:center;top:735.3px;font-size:10.2px;color:#3a3a3a">100</div>
<div class="panel" style="left:399px;top:498px;width:333.5px;height:289.6px"></div>
<div class="t" style="left:418.2px;top:518.3px;font-size:13.1px;color:#9c9c9c">Distribución de perfiles por squad</div>
<svg class="abs" style="left:415px;top:542px" width="290" height="8"><path d="M5.3 5 L285 3.6" stroke="#8c8c8c" stroke-width="1.7" fill="none" stroke-linecap="round"/></svg>
<svg class="abs" style="left:399px;top:498px" width="334" height="290" viewBox="399 498 334 290">
<rect x="439" y="711.70" width="261" height="1" fill="#9a9a9a"/>
<rect x="439" y="683.10" width="261" height="1" fill="#bcbcbc"/>
<rect x="439" y="654.50" width="261" height="1" fill="#bcbcbc"/>
<rect x="439" y="625.90" width="261" height="1" fill="#bcbcbc"/>
<rect x="439" y="597.30" width="261" height="1" fill="#bcbcbc"/>
<rect x="439" y="568.70" width="261" height="1" fill="#bcbcbc"/>
<rect x="438.90" y="706.48" width="48.3" height="6.02" fill="#dd7649"/>
<rect x="438.90" y="695.04" width="48.3" height="11.74" fill="#f79f3a"/>
<rect x="438.90" y="649.28" width="48.3" height="46.06" fill="#0e8087"/>
<path d="M438.90 649.28 V595.08 Q438.90 592.08 441.90 592.08 H484.20 Q487.20 592.08 487.20 595.08 V649.28 Z" fill="#00b5bf"/>
<rect x="492.18" y="700.76" width="48.3" height="11.74" fill="#f79f3a"/>
<rect x="492.18" y="643.56" width="48.3" height="57.50" fill="#0e8087"/>
<path d="M492.18 643.56 V577.92 Q492.18 574.92 495.18 574.92 H537.48 Q540.48 574.92 540.48 577.92 V643.56 Z" fill="#00b5bf"/>
<rect x="545.46" y="706.48" width="48.3" height="6.02" fill="#dd7649"/>
<rect x="545.46" y="700.76" width="48.3" height="6.02" fill="#d2ae78"/>
<rect x="545.46" y="660.72" width="48.3" height="40.34" fill="#0e8087"/>
<path d="M545.46 660.72 V646.56 Q545.46 643.56 548.46 643.56 H590.76 Q593.76 643.56 593.76 646.56 V660.72 Z" fill="#00b5bf"/>
<rect x="598.74" y="706.48" width="48.3" height="6.02" fill="#dd7649"/>
<rect x="598.74" y="700.76" width="48.3" height="6.02" fill="#f79f3a"/>
<rect x="598.74" y="695.04" width="48.3" height="6.02" fill="#d2ae78"/>
<rect x="598.74" y="689.32" width="48.3" height="6.02" fill="#0e8087"/>
<path d="M598.74 689.32 V675.16 Q598.74 672.16 601.74 672.16 H644.04 Q647.04 672.16 647.04 675.16 V689.32 Z" fill="#00b5bf"/>
<rect x="652.02" y="706.48" width="48.3" height="6.02" fill="#dd7649"/>
<rect x="652.02" y="700.76" width="48.3" height="6.02" fill="#f79f3a"/>
<rect x="652.02" y="677.88" width="48.3" height="23.18" fill="#0e8087"/>
<path d="M652.02 677.88 V669.44 Q652.02 666.44 655.02 666.44 H697.32 Q700.32 666.44 700.32 669.44 V677.88 Z" fill="#00b5bf"/>
<g font-family="Liberation Sans, sans-serif" font-size="9.4" fill="#3a3a3a" text-anchor="end">
<text transform="translate(469.0 724.5) rotate(-45)">Analytics 1</text>
<text transform="translate(522.3 724.5) rotate(-45)">Analytics 2</text>
<text transform="translate(575.6 724.5) rotate(-45)">Data Science</text>
<text transform="translate(628.9 724.5) rotate(-45)">IT</text>
<text transform="translate(682.2 724.5) rotate(-45)">Ventas</text>
</g></svg>
<div class="t" style="right:776.7px;top:707.3px;font-size:9.8px;color:#3a3a3a">0</div>
<div class="t" style="right:776.7px;top:678.7px;font-size:9.8px;color:#3a3a3a">5</div>
<div class="t" style="right:776.7px;top:650.1px;font-size:9.8px;color:#3a3a3a">10</div>
<div class="t" style="right:776.7px;top:621.5px;font-size:9.8px;color:#3a3a3a">15</div>
<div class="t" style="right:776.7px;top:592.9px;font-size:9.8px;color:#3a3a3a">20</div>
<div class="t" style="right:776.7px;top:564.3px;font-size:9.8px;color:#3a3a3a">25</div>
<div class="card" style="left:746px;top:129px;width:250.8px;height:122px"></div>
<div class="track" style="left:762.2px;top:148.6px;width:215.7px"></div>
<div class="fill" style="left:762.2px;top:148.6px;width:37px;background:#dd7649"></div>
<div class="t pct" style="letter-spacing:0px;left:809.2px;top:150.0px">10%</div>
<div class="t ttl" style="left:764.2px;top:178.7px">Influencers</div>
<div class="desc" style="left:765.9px;top:206.3px;font-size:7.5px;line-height:9.9px">Los líderes formales o informales tienen gran<br>poder de persuasión y habilidades de<br>comunicación.</div>
<svg class="abs" style="left:954.6px;top:190.9px" width="19" height="14" viewBox="0 0 19 14" fill="none" stroke="#b9b9b9" stroke-width=".75"><circle cx="3.9" cy="4" r="2.9"/><circle cx="15.1" cy="4" r="2.9"/><path d="M0.5 11.2 C0.5 8.6 2 7.3 3.9 7.3 C4.8 7.3 5.5 7.5 6 7.9 M13 7.9 C13.5 7.5 14.2 7.3 15.1 7.3 C17 7.3 18.5 8.6 18.5 11.2 H16"/><circle cx="9.5" cy="4" r="3.4" fill="#eeeeee"/><path d="M4.2 13.1 C4.2 9.3 6.5 7.4 9.5 7.4 C12.5 7.4 14.8 9.3 14.8 13.1 Z" fill="#eeeeee"/></svg>
<div class="t num" style="right:236.4px;top:209.4px;font-size:23.6px;font-weight:700;letter-spacing:0px;margin-right:-0px">4</div>
<div class="card" style="left:748px;top:263.3px;width:251px;height:121.3px"></div>
<div class="track" style="left:763.7px;top:282.8px;width:215.7px"></div>
<div class="fill" style="left:763.7px;top:282.8px;width:49.5px;background:#f2a24a"></div>
<div class="t pct" style="letter-spacing:0px;left:821.5px;top:285.1px">15%</div>
<div class="t ttl" style="left:765.8px;top:313.2px">Energéticos</div>
<div class="desc" style="left:768.7px;top:344.4px;font-size:7.5px;line-height:9.5px">Personas que tienen mucha energía y<br>entusiasmo.</div>
<svg class="abs" style="left:954.6px;top:326.4px" width="19" height="14" viewBox="0 0 19 14" fill="none" stroke="#b9b9b9" stroke-width=".75"><circle cx="3.9" cy="4" r="2.9"/><circle cx="15.1" cy="4" r="2.9"/><path d="M0.5 11.2 C0.5 8.6 2 7.3 3.9 7.3 C4.8 7.3 5.5 7.5 6 7.9 M13 7.9 C13.5 7.5 14.2 7.3 15.1 7.3 C17 7.3 18.5 8.6 18.5 11.2 H16"/><circle cx="9.5" cy="4" r="3.4" fill="#eeeeee"/><path d="M4.2 13.1 C4.2 9.3 6.5 7.4 9.5 7.4 C12.5 7.4 14.8 9.3 14.8 13.1 Z" fill="#eeeeee"/></svg>
<div class="t num" style="right:236.8px;top:344.1px;font-size:23.4px;font-weight:400;letter-spacing:0px;margin-right:-0px">6</div>
<div class="card" style="left:748px;top:397.9px;width:251px;height:121.4px"></div>
<div class="track" style="left:763.7px;top:417.5px;width:215.7px"></div>
<div class="fill" style="left:763.7px;top:417.5px;width:23.7px;background:#d3ad72"></div>
<div class="t pct" style="letter-spacing:0px;left:793.2px;top:418.5px">5%</div>
<div class="t ttl" style="left:765.8px;top:447.8px">Brokers</div>
<div class="desc" style="left:768.7px;top:478.2px;font-size:7.5px;line-height:9.7px">Personas que conectan diferentes<br>grupos o subgrupos dentro de la red.</div>
<svg class="abs" style="left:957.5px;top:453.6px" width="19" height="14" viewBox="0 0 19 14" fill="none" stroke="#b9b9b9" stroke-width=".75"><circle cx="3.9" cy="4" r="2.9"/><circle cx="15.1" cy="4" r="2.9"/><path d="M0.5 11.2 C0.5 8.6 2 7.3 3.9 7.3 C4.8 7.3 5.5 7.5 6 7.9 M13 7.9 C13.5 7.5 14.2 7.3 15.1 7.3 C17 7.3 18.5 8.6 18.5 11.2 H16"/><circle cx="9.5" cy="4" r="3.4" fill="#eeeeee"/><path d="M4.2 13.1 C4.2 9.3 6.5 7.4 9.5 7.4 C12.5 7.4 14.8 9.3 14.8 13.1 Z" fill="#eeeeee"/></svg>
<div class="t num" style="right:234.6px;top:471.8px;font-size:23.4px;font-weight:400;letter-spacing:0px;margin-right:-0px">2</div>
<div class="card" style="left:748px;top:532px;width:251px;height:121.4px"></div>
<div class="track" style="left:763.7px;top:551.8px;width:215.7px"></div>
<div class="fill" style="left:763.7px;top:551.8px;width:114px;background:#0e7f86"></div>
<div class="t pct" style="letter-spacing:1.5px;left:890.3px;top:553.2px">50%</div>
<div class="t ttl" style="left:765.8px;top:581.8px">Centrales</div>
<div class="desc" style="left:766.7px;top:609.5px;font-size:7.5px;line-height:9.6px">Personas que tienen muchas<br>conexiones con un alto nivel de<br>interacción.</div>
<svg class="abs" style="left:954px;top:598.8px" width="19" height="14" viewBox="0 0 19 14" fill="none" stroke="#b9b9b9" stroke-width=".75"><circle cx="3.9" cy="4" r="2.9"/><circle cx="15.1" cy="4" r="2.9"/><path d="M0.5 11.2 C0.5 8.6 2 7.3 3.9 7.3 C4.8 7.3 5.5 7.5 6 7.9 M13 7.9 C13.5 7.5 14.2 7.3 15.1 7.3 C17 7.3 18.5 8.6 18.5 11.2 H16"/><circle cx="9.5" cy="4" r="3.4" fill="#eeeeee"/><path d="M4.2 13.1 C4.2 9.3 6.5 7.4 9.5 7.4 C12.5 7.4 14.8 9.3 14.8 13.1 Z" fill="#eeeeee"/></svg>
<div class="t num" style="right:235.2px;top:616.9px;font-size:23.6px;font-weight:700;letter-spacing:1.0px;margin-right:-1.0px">30</div>
<div class="card" style="left:748px;top:666.8px;width:251px;height:120.6px"></div>
<div class="track" style="left:763.7px;top:685.9px;width:215.7px"></div>
<div class="fill" style="left:763.7px;top:685.9px;width:87px;background:#00b5bf"></div>
<div class="t pct" style="letter-spacing:1.4px;left:859.3px;top:687.3px">30%</div>
<div class="t ttl" style="left:765.8px;top:715.8px">Periféricos</div>
<div class="desc" style="left:766.7px;top:743.8px;font-size:8.8px;line-height:11.8px">Personas que no tienen muchas<br>conexiones.</div>
<svg class="abs" style="left:957px;top:725.2px" width="19" height="14" viewBox="0 0 19 14" fill="none" stroke="#b9b9b9" stroke-width=".75"><circle cx="3.9" cy="4" r="2.9"/><circle cx="15.1" cy="4" r="2.9"/><path d="M0.5 11.2 C0.5 8.6 2 7.3 3.9 7.3 C4.8 7.3 5.5 7.5 6 7.9 M13 7.9 C13.5 7.5 14.2 7.3 15.1 7.3 C17 7.3 18.5 8.6 18.5 11.2 H16"/><circle cx="9.5" cy="4" r="3.4" fill="#eeeeee"/><path d="M4.2 13.1 C4.2 9.3 6.5 7.4 9.5 7.4 C12.5 7.4 14.8 9.3 14.8 13.1 Z" fill="#eeeeee"/></svg>
<div class="t num" style="right:232.0px;top:741.7px;font-size:23.4px;font-weight:400;letter-spacing:1.2px;margin-right:-1.2px">20</div>
<div class="avp" style="left:1015px;top:128px;width:171.6px;height:122.4px"></div>
<div class="t verlo" style="left:1122.4px;top:145.6px">verlo todo</div>
<div class="dot" style="left:1154.3px;top:230.9px"></div>
<div class="dot" style="left:1159.3px;top:230.9px"></div>
<div class="dot" style="left:1164.4px;top:230.9px"></div>
<div class="face" style="left:1037.7px;top:154.5px;width:33.6px;height:33.6px"><svg width="33.6" height="33.6" viewBox="0 0 34 34" style="display:block"><rect width="34" height="34" fill="#f6f3f1"/><rect x="24" y="0" width="10" height="34" fill="#ebe4df"/><path d="M10 36 L11 29 Q19 25 28.5 29.5 L29 36 Z" fill="#dba672"/><circle cx="22" cy="31.5" r="1.6" fill="#c9743c"/><circle cx="26" cy="33" r="1.3" fill="#b8894e"/><ellipse cx="26.3" cy="18.6" rx="1.7" ry="2.6" fill="#c98460"/><ellipse cx="15.9" cy="19.6" rx="10.2" ry="11.6" fill="#d8956e"/><path d="M4.6 15.5 C3 3 13 -1.5 19 0.2 C26 0.8 29.5 8 27.2 16.5 C26 12.5 24.5 10.4 22.5 9.6 C17 11.5 10.5 10 7.4 10.6 C6 12 5.6 14 4.6 15.5 Z" fill="#1b1718"/><path d="M9.2 21.8 Q13.8 18.9 18.6 21.6 Q13.8 23.6 9.2 21.8 Z" fill="#21150f"/><ellipse cx="10.6" cy="15.2" rx="1.7" ry=".9" fill="#3a2620"/><ellipse cx="18.6" cy="15.2" rx="1.7" ry=".9" fill="#3a2620"/><path d="M8.4 13.2 h4.2 M16.4 13.2 h4.2" stroke="#1b1718" stroke-width="1"/></svg></div>
<div class="face" style="left:1085.6px;top:154.5px;width:33.6px;height:33.6px"><svg width="33.6" height="33.6" viewBox="0 0 34 34" style="display:block"><rect width="34" height="34" fill="#c7952a"/><rect x="4" y="0" width="4" height="34" fill="#d6a838"/><rect x="11" y="0" width="3" height="34" fill="#b98a22"/><rect x="24" y="0" width="5" height="34" fill="#d9ab3a"/><ellipse cx="15.7" cy="14.2" rx="12.2" ry="9.8" fill="#7f441c"/><path d="M2.5 36 C2.5 26.2 8.125 24.2 15 24.2 C21.875 24.2 27.5 26.2 27.5 36 Z" fill="#4b88c7"/><path d="M12.2 24.0 L15 31.2 L17.8 24.0 Z" fill="#94613f"/><rect x="13.1" y="22.799999999999997" width="3.8" height="5.6" rx="1.5" fill="#94613f"/><ellipse cx="15" cy="19.2" rx="4.5" ry="5.6" fill="#94613f"/><circle cx="13.3" cy="19.0" r="0.5" fill="#2a1c17" fill-opacity=".75"/><circle cx="16.7" cy="19.0" r="0.5" fill="#2a1c17" fill-opacity=".75"/><ellipse cx="11" cy="10" rx="4" ry="3.4" fill="#94521f" fill-opacity=".8"/><ellipse cx="21" cy="9.4" rx="4.4" ry="3.4" fill="#6a3513" fill-opacity=".6"/></svg></div>
<div class="face" style="left:1037.7px;top:194.7px;width:33.6px;height:33.6px"><svg width="33.6" height="33.6" viewBox="0 0 34 34" style="display:block"><rect width="34" height="34" fill="#4a4543"/><rect x="19.5" y="0" width="7" height="24" fill="#8d867b"/><rect x="3" y="2" width="5" height="22" fill="#6f6a63"/><rect x="27.5" y="6" width="6.5" height="18" fill="#2e2b2a"/><ellipse cx="8.5" cy="18" rx="2.2" ry="3.4" fill="#54784c"/><rect x="24" y="22" width="10" height="5" fill="#d8d5d0"/><path d="M1.9000000000000004 36 C1.9000000000000004 23.4 7.975 21.4 15.4 21.4 C22.825000000000003 21.4 28.9 23.4 28.9 36 Z" fill="#1b2540"/><path d="M12.88 21.2 L15.4 27.7 L17.92 21.2 Z" fill="#dfe2ea"/><rect x="13.690000000000001" y="15.84" width="3.42" height="5.04" rx="1.35" fill="#d3ad95"/><ellipse cx="15.4" cy="12.6" rx="4.05" ry="5.04" fill="#d3ad95"/><path d="M11.350000000000001 13.049999999999999 Q11.650000000000002 18.72 15.4 18.36 Q19.15 18.72 19.45 13.049999999999999 Q15.4 16.65 11.350000000000001 13.049999999999999 Z" fill="#b08b76"/><path d="M11.080000000000002 11.879999999999999 C10.63 5.219999999999999 20.169999999999998 5.219999999999999 19.72 11.879999999999999 C18.91 8.73 11.89 8.73 11.080000000000002 11.879999999999999 Z" fill="#2a201c"/><path d="M12.34 12.33 h2.43 M16.03 12.33 h2.43" stroke="#222" stroke-width="0.9900000000000001" fill="none" stroke-opacity=".8"/><rect x="14.85" y="22.4" width="1.2" height="8" fill="#22325e"/></svg></div>
<div class="face" style="left:1085.6px;top:194.7px;width:33.6px;height:33.6px"><svg width="33.6" height="33.6" viewBox="0 0 34 34" style="display:block"><rect width="34" height="34" fill="#fdfdfd"/><path d="M12.6 13 C12 4.5 24.5 4.2 24 13 C24.6 19 27.8 24 28.8 33 L26 34 L10 34 L7.6 32.4 C9 25 12.4 19 12.6 13 Z" fill="#1f1919"/><path d="M11.5 34 L12.4 26.5 Q18.3 22.6 24.4 26.5 L25.6 34 Z" fill="#e9dfdf"/><rect x="16.6" y="17" width="3.4" height="6.4" rx="1.4" fill="#c08a68"/><path d="M16.2 22.6 L18.3 26.4 L20.4 22.6 Z" fill="#c9916f"/><ellipse cx="18.3" cy="13.1" rx="4.3" ry="5.6" fill="#cb9472"/><path d="M13.7 12.6 C13.4 6.2 23.2 6.2 22.9 12.6 C21.8 9.4 19.5 8.6 17.6 8.8 C15.8 9 14.4 10.4 13.7 12.6 Z" fill="#1f1919"/><path d="M12.4 24 Q10.6 30 11.6 34 L8 34 Q9.4 27 12.4 24 Z M24.2 24 Q26.4 30 25.4 34 L29 34 Q27.4 27 24.2 24 Z" fill="#1f1919"/><circle cx="16.6" cy="12.9" r=".5" fill="#2a1c17"/><circle cx="20" cy="12.9" r=".5" fill="#2a1c17"/><path d="M16.8 15.8 Q18.3 17 19.8 15.8" stroke="#fff" stroke-width=".7" fill="none"/></svg></div>
<div class="avp" style="left:1017px;top:262.8px;width:169.3px;height:122px"></div>
<div class="t verlo" style="left:1124.4px;top:279.6px">verlo todo</div>
<div class="dot" style="left:1156.3px;top:365.7px"></div>
<div class="dot" style="left:1161.3px;top:365.7px"></div>
<div class="dot" style="left:1166.4px;top:365.7px"></div>
<div class="face" style="left:1039.5px;top:289.0px;width:33.6px;height:33.6px"><svg width="33.6" height="33.6" viewBox="0 0 34 34" style="display:block"><rect width="34" height="34" fill="#d9c8bf"/><path d="M10.4 13 C8.6 3.5 20.5 1 22 9 C24.5 13 27 17 30.4 22 C31 25 30 27.6 28 28.2 L20 22 L10 18 C9.6 16 10 14.6 10.4 13 Z" fill="#33231d"/><path d="M1.6 30 C2 22 6 18.4 11 17.6 L19 19.6 L27.4 23.4 C29.4 25.4 29.4 30 28 36 L3 36 Z" fill="#1f3358"/><path d="M9.6 19.4 L17.6 20.4 L16.4 33 L8.6 32 Z" fill="#13151a"/><path d="M16.8 23 L20.6 21 L18 34 L15 34 Z" fill="#2a4372"/><rect x="13.2" y="15" width="3.6" height="5.2" rx="1.4" fill="#b9805f"/><ellipse cx="15.1" cy="11.3" rx="4.2" ry="5.4" fill="#c79271"/><path d="M10.6 11.6 C10 4.6 18.4 3.4 19.6 9.4 C18 7.6 14.6 7.2 12.4 8.6 C11.4 9.4 10.9 10.4 10.6 11.6 Z" fill="#33231d"/><circle cx="13.5" cy="10.8" r=".5" fill="#2a1c17"/><circle cx="16.7" cy="10.8" r=".5" fill="#2a1c17"/><path d="M13.6 13.8 Q15.1 15 16.6 13.8" stroke="#fff" stroke-width=".7" fill="none"/><ellipse cx="16.4" cy="32.8" rx="2.2" ry="1.6" fill="#c79271"/></svg></div>
<div class="face" style="left:1085.6px;top:289.0px;width:33.6px;height:33.6px"><svg width="33.6" height="33.6" viewBox="0 0 34 34" style="display:block"><rect width="34" height="34" fill="#e3e9ec"/><rect x="22" y="3" width="9" height="20" fill="#9dbbd0"/><rect x="25.5" y="0" width="8" height="12" fill="#f0f4f6"/><ellipse cx="3.4" cy="10" rx="4" ry="5" fill="#8f8378"/><rect x="0" y="14" width="6" height="8" fill="#a9b3b0"/><circle cx="28.6" cy="19" r="2" fill="#5e9c4e"/><path d="M9.4 9 C8.4 0.6 20.6 0 20.4 8 C21 11 21 13.6 20 15.6 L10.6 16 C9.6 14 9.4 11.6 9.4 9 Z" fill="#6f513e"/><path d="M1.4 36 C1 24 5 17.4 12 16.2 L18.6 16.2 C25 17.4 28.6 23 28.4 36 Z" fill="#b9c4c0"/><path d="M11.6 16 L14.8 22.6 L18.4 16 Z" fill="#deb59a"/><rect x="12.9" y="12" width="3.6" height="5" rx="1.4" fill="#d7ab8e"/><ellipse cx="14.6" cy="8.7" rx="4.3" ry="5.5" fill="#e2b99d"/><path d="M10 8.6 C9.6 1.6 19.4 1.6 19.4 8.4 C18 5.6 15.6 4.6 13.4 5 C11.6 5.4 10.5 6.8 10 8.6 Z" fill="#6f513e"/><path d="M10.4 9 C8.6 13 9.6 17 8 21 C7.4 24 9 26.4 10.6 27.4 C12 25 11.4 21 12.2 17.6 C12.4 14.6 11 12 10.4 9 Z" fill="#6f513e"/><circle cx="13" cy="8.3" r=".5" fill="#2a1c17"/><circle cx="16.3" cy="8.3" r=".5" fill="#2a1c17"/><path d="M13 11.2 Q14.6 12.6 16.2 11.2" stroke="#fff" stroke-width=".8" fill="none"/><ellipse cx="20.6" cy="32.6" rx="3" ry="1.5" fill="#e2b99d"/></svg></div>
<div class="face" style="left:1039.5px;top:329.6px;width:33.6px;height:33.6px"><svg width="33.6" height="33.6" viewBox="0 0 34 34" style="display:block"><rect width="34" height="34" fill="#c7c1b5"/><path d="M22.2 1 H34 V34 H25.6 L22.2 6 Z" fill="#fcfbf8"/><path d="M3.5 36 C3.5 24.2 8.719999999999999 22.2 15.1 22.2 C21.48 22.2 26.7 24.2 26.7 36 Z" fill="#2b2136"/><path d="M12.495999999999999 22.0 L15.1 28.71 L17.704 22.0 Z" fill="#efe4ea"/><rect x="13.333" y="18.748" width="3.534" height="5.208" rx="1.395" fill="#c99976"/><ellipse cx="15.1" cy="15.4" rx="4.1850000000000005" ry="5.208" fill="#c99976"/><path d="M10.915 15.865 Q11.215 21.724 15.1 21.352 Q18.985 21.724 19.285 15.865 Q15.1 19.585 10.915 15.865 Z" fill="#b5876a"/><path d="M10.636 14.656 C10.171 7.774 20.029 7.774 19.564 14.656 C18.727 11.401 11.472999999999999 11.401 10.636 14.656 Z" fill="#46312a"/><circle cx="13.519" cy="15.214" r="0.465" fill="#2a1c17" fill-opacity=".75"/><circle cx="16.681" cy="15.214" r="0.465" fill="#2a1c17" fill-opacity=".75"/></svg></div>
<div class="face" style="left:1085.6px;top:329.6px;width:33.6px;height:33.6px"><svg width="33.6" height="33.6" viewBox="0 0 34 34" style="display:block"><rect width="34" height="34" fill="#e6dad4"/><rect x="0" y="5" width="10" height="1.2" fill="#d9a27c"/><rect x="2" y="1.6" width="1.6" height="3.4" fill="#d9573e"/><rect x="5" y="2" width="1.4" height="3" fill="#c9c2b8"/><rect x="1" y="10" width="4" height="9" fill="#8a8a6a"/><rect x="20" y="4.6" width="9" height="1.2" fill="#e8b58f"/><rect x="25.4" y="10.2" width="8.6" height="13" rx=".6" fill="#262a29"/><rect x="26.4" y="12" width="5" height=".6" fill="#5a6a5a"/><rect x="26.4" y="14" width="4" height=".6" fill="#5a6a5a"/><rect x="19" y="20" width="8" height="3" fill="#d8c2b6"/><path d="M2.6 28 C2 18 8 12.8 13.6 13 L19.4 15.6 L22 22 L28 26.4 L27 30 L20 29 L19 36 L4 36 Z" fill="#2c6a9f"/><path d="M9 16 L14 22 L12 30" stroke="#3f80b6" stroke-width="1" fill="none"/><rect x="13.8" y="12" width="3.8" height="4.6" rx="1.4" fill="#cf9f80"/><ellipse cx="15.7" cy="8.7" rx="4.6" ry="5.8" fill="#dbaf92"/><path d="M10.6 8 C9.6 0.4 21.4 -0.6 21 7.6 C19.6 4.6 17.6 3.6 15 4 C12.8 4.4 11.4 6 10.6 8 Z" fill="#17110f"/><path d="M11.6 7.9 h3.3 M16.5 7.9 h3.3 M14.9 7.9 h1.6" stroke="#1c1a1a" stroke-width="1.1" fill="none"/><path d="M13.8 11.6 Q15.7 12.8 17.4 11.4" stroke="#fff" stroke-width=".6" fill="none"/></svg></div>
<div class="avp" style="left:1017px;top:397.2px;width:169.3px;height:121.8px"></div>
<div class="t verlo" style="left:1124.4px;top:414.0px">verlo todo</div>
<div class="dot" style="left:1156.3px;top:500.1px"></div>
<div class="dot" style="left:1161.3px;top:500.1px"></div>
<div class="dot" style="left:1166.4px;top:500.1px"></div>
<div class="face" style="left:1037.7px;top:443.8px;width:33.6px;height:33.6px"><svg width="33.6" height="33.6" viewBox="0 0 34 34" style="display:block"><rect width="34" height="34" fill="#8a7a66"/><rect x="0" y="0" width="34" height="3" fill="#d9cfb8"/><rect x="13" y="0" width="9" height="1.6" fill="#e8d060"/><rect x="0" y="3.6" width="34" height="2.6" fill="#f4f2ee"/><rect x="2" y="6.4" width="30" height="3.4" fill="#5a5652"/><rect x="0" y="9.8" width="34" height="1.6" fill="#efece6"/><rect x="0" y="11.4" width="26" height="5" fill="#bdb5a8"/><rect x="0" y="16.6" width="34" height="2.4" fill="#f4f2ee"/><rect x="0" y="19" width="26" height="9" fill="#9a9284"/><rect x="25.6" y="6.6" width="8.4" height="10" fill="#b8752e"/><rect x="25.6" y="19" width="8.4" height="9" fill="#a9682a"/><rect x="20" y="20" width="6" height="8" fill="#4a4a46"/><rect x="27" y="28.4" width="4" height="1.4" fill="#f0d34a"/><path d="M2.6 36 C3 27 8 23.4 13 22.6 L18 23 C24 24 28 28 28.4 36 Z" fill="#3c4ea0"/><path d="M12 23 L15.4 31 L18.4 24 L16 27.4 Z" fill="#dfe3ee"/><path d="M13 23 L15.4 29 L17.6 23.4 Z" fill="#7a4a30"/><rect x="12.4" y="19" width="5" height="5.4" rx="2" fill="#7d4b2f"/><ellipse cx="14.7" cy="14" rx="6.3" ry="8.6" fill="#8d5a3a"/><ellipse cx="15.6" cy="11.4" rx="3.6" ry="3" fill="#a87450" fill-opacity=".7"/><path d="M8.5 12 C8.2 4.4 21 4.2 20.9 12 C19.6 8 17.4 6.6 14.7 6.6 C12 6.6 9.8 8 8.5 12 Z" fill="#3a261c"/><ellipse cx="12.2" cy="13.4" rx="1" ry=".6" fill="#2a1810"/><ellipse cx="17.2" cy="13.4" rx="1" ry=".6" fill="#2a1810"/><path d="M12.4 18.2 Q14.8 20 17.2 18.2" stroke="#f2ece8" stroke-width=".9" fill="none"/></svg></div>
<div class="face" style="left:1087.2px;top:443.8px;width:33.6px;height:33.6px"><svg width="33.6" height="33.6" viewBox="0 0 34 34" style="display:block"><rect width="34" height="34" fill="#3b3836"/><rect x="0" y="0" width="4.6" height="34" fill="#d6d3cd"/><rect x="5.6" y="0" width="3" height="34" fill="#5a5652"/><rect x="10" y="4" width="3.6" height="18" fill="#c9c6c0"/><rect x="21.6" y="0" width="4.4" height="26" fill="#8f877c"/><rect x="27" y="6" width="7" height="16" fill="#24211f"/><rect x="27" y="20.6" width="7" height="4" fill="#e4e2de"/><ellipse cx="12.6" cy="15.6" rx="1.4" ry="2.4" fill="#4f7a48"/><path d="M6.4 36 C6 24 10 19.4 15 18.4 L20 18.4 C25 19.4 28.6 24 28 36 Z" fill="#1b2a4a"/><path d="M15.4 18.2 L17.4 24 L19.4 18.2 Z" fill="#dfe3ea"/><rect x="16.9" y="19" width="1" height="5.6" fill="#27386a"/><path d="M8 27.4 Q17 23.6 27 27 L27 31 Q17 27.6 8.4 31.6 Z" fill="#22345a"/><ellipse cx="10.6" cy="27.6" rx="1.8" ry="1" fill="#d8b39a"/><ellipse cx="22.6" cy="29.8" rx="1.8" ry="1" fill="#d8b39a"/><rect x="15.8" y="14" width="3.2" height="5" rx="1.3" fill="#cfa78e"/><ellipse cx="17.4" cy="11" rx="3.6" ry="4.9" fill="#d8b39a"/><path d="M13.6 10.4 C13 4 21.8 4 21.2 10.4 C20.4 7.6 19 6.8 17.4 6.8 C15.8 6.8 14.4 7.6 13.6 10.4 Z" fill="#2b1f1a"/><path d="M14.4 10.6 h2.5 M17.9 10.6 h2.5" stroke="#222" stroke-width=".9" stroke-opacity=".8"/></svg></div>
<div class="avp" style="left:1017px;top:531.8px;width:169.3px;height:121.8px"></div>
<div class="t verlo" style="left:1124.4px;top:548.6px">verlo todo</div>
<div class="dot" style="left:1156.3px;top:634.7px"></div>
<div class="dot" style="left:1161.3px;top:634.7px"></div>
<div class="dot" style="left:1166.4px;top:634.7px"></div>
<div class="face" style="left:1039.5px;top:557.9px;width:33.6px;height:33.6px"><svg width="33.6" height="33.6" viewBox="0 0 34 34" style="display:block"><rect width="34" height="34" fill="#6e4522"/><rect x="0" y="0" width="34" height="4" fill="#a57a4e"/><rect x="27" y="3" width="3.4" height="31" fill="#b98a58"/><rect x="30.4" y="3" width="3.6" height="31" fill="#8a5a2e"/><rect x="24" y="8" width="3" height="14" fill="#e8d2b0"/><path d="M3 36 C4 30 9 28.4 13 28 L21 28 C26 28.6 30 31 31 36 Z" fill="#e8866a"/><ellipse cx="15" cy="17.6" rx="12.6" ry="12.8" fill="#7c3b1e"/><ellipse cx="8" cy="14" rx="4" ry="5" fill="#9a4d28" fill-opacity=".7"/><ellipse cx="22.6" cy="20" rx="4" ry="6" fill="#5e2a14" fill-opacity=".6"/><ellipse cx="13" cy="7.6" rx="5" ry="2.6" fill="#9a4d28" fill-opacity=".6"/><rect x="14" y="23" width="4.6" height="6" rx="1.6" fill="#bd835d"/><ellipse cx="16.3" cy="18.1" rx="5.2" ry="6.6" fill="#ca9069"/><path d="M11 16 C11.4 10.6 20.6 10 21.6 15.6 C19.6 13 16.6 12.8 14 13.6 C12.6 14.2 11.6 15 11 16 Z" fill="#7c3b1e"/><rect x="11.4" y="15.4" width="4.2" height="3" rx=".8" fill="none" stroke="#2a2220" stroke-width=".8"/><rect x="16.8" y="15.2" width="4.2" height="3" rx=".8" fill="none" stroke="#2a2220" stroke-width=".8"/><path d="M14 21.4 Q16.4 23.4 18.8 21.2" stroke="#fff" stroke-width="1" fill="none"/></svg></div>
<div class="face" style="left:1085.6px;top:557.9px;width:33.6px;height:33.6px"><svg width="33.6" height="33.6" viewBox="0 0 34 34" style="display:block"><rect width="34" height="34" fill="#fff"/><path d="M8.6 13 C7.4 1.6 20.6 1.4 19.6 12.6 C20.4 17.6 23.6 21 24.6 27 L3.6 27 C4.6 21 8 18 8.6 13 Z" fill="#38231b"/><path d="M2 36 C2.4 28 5 23.6 10 22.2 L18 22.2 C24 23.4 28.6 27 29.6 36 Z" fill="#8b8b8b"/><path d="M10.4 21.6 L14 33 L18 21.6 Z" fill="#f4f4fa"/><path d="M13.6 24 L14.2 34 L15.2 34 L15 24 Z" fill="#d9dbe6"/><path d="M9.6 22.4 L14 33 L11 34 L7 26 Z M18.6 22.4 L14.4 33 L17 34 L22 26 Z" fill="#7a7a7a"/><rect x="11.8" y="16.6" width="3.8" height="5.6" rx="1.5" fill="#d9ab8e"/><ellipse cx="13.6" cy="12.4" rx="4.6" ry="6" fill="#e4b99c"/><path d="M8.8 12 C8.4 4 19 4 18.6 12 C17.4 8.4 15.4 7.2 13.4 7.4 C11.2 7.6 9.6 9 8.8 12 Z" fill="#38231b"/><circle cx="11.8" cy="11.8" r=".55" fill="#2a1c17"/><circle cx="15.4" cy="11.8" r=".55" fill="#2a1c17"/><ellipse cx="13.6" cy="15.6" rx="1.6" ry=".8" fill="#e0607a"/></svg></div>
<div class="face" style="left:1039.5px;top:598.5px;width:33.6px;height:33.6px"><svg width="33.6" height="33.6" viewBox="0 0 34 34" style="display:block"><rect width="34" height="34" fill="#241f1d"/><circle cx="6" cy="7" r="1.4" fill="#7a6238"/><circle cx="27" cy="5" r="1.2" fill="#8a7040"/><circle cx="29.6" cy="11" r="1.6" fill="#4a5a66"/><circle cx="23" cy="3" r=".9" fill="#8a7040"/><circle cx="10" cy="3" r=".9" fill="#6a5a38"/><rect x="0" y="22" width="8" height="12" fill="#3a2e26"/><path d="M4.4 36 C4 26 8 19.4 14 18 L21 18 C27 19.4 30.6 24 31 36 Z" fill="#4a78c8"/><path d="M15 18 L17.6 24 L20 18 Z" fill="#b57c56"/><path d="M23.6 27 L31.6 25.4 L32.6 34 L24.6 34 Z" fill="#d9c9b8"/><rect x="15.4" y="15" width="4" height="4.6" rx="1.5" fill="#b57c56"/><ellipse cx="17.3" cy="11.7" rx="4.8" ry="6" fill="#c38c64"/><path d="M12.4 11.6 Q12.6 19 17.3 18.6 Q22 19 22.2 11.6 Q21 15.6 17.3 15 Q13.6 15.6 12.4 11.6 Z" fill="#1f1613"/><path d="M12.3 11 C11.6 3.4 23 3.4 22.3 11 C21.2 7.6 19.4 6.6 17.3 6.6 C15.2 6.6 13.4 7.6 12.3 11 Z" fill="#18110f"/><path d="M13.2 10.8 h3.3 M18.1 10.8 h3.3 M16.5 10.8 h1.6" stroke="#161313" stroke-width=".9"/><path d="M15 15.4 Q17.3 17.2 19.6 15.4 Z" fill="#fff"/></svg></div>
<div class="face" style="left:1085.6px;top:598.5px;width:33.6px;height:33.6px"><svg width="33.6" height="33.6" viewBox="0 0 34 34" style="display:block"><rect width="34" height="34" fill="#f6f6f6"/><rect x="0" y="0" width="34" height="12" fill="#fbfbfb"/><path d="M1.6 36 C2 27 6 23 11 21.6 L21 21.6 C26 23 30 27 30.4 36 Z" fill="#1b1b1d"/><path d="M12.4 21 L16 34 L19.8 21 Z" fill="#fcfcfc"/><path d="M15.4 23 L14.9 34 L17.1 34 L16.6 23 Z" fill="#111"/><rect x="14" y="18" width="4" height="4.6" rx="1.5" fill="#cfa284"/><ellipse cx="16" cy="14.3" rx="4.6" ry="6" fill="#dcb395"/><path d="M11.4 14.6 Q11.8 21 16 20.6 Q20.2 21 20.6 14.6 Q19.6 18 16 17.6 Q12.4 18 11.4 14.6 Z" fill="#8a6042"/><path d="M11.2 13.6 C10.4 6 21.6 5.4 20.8 13.6 C20 10.4 18.4 9.4 16 9.4 C13.6 9.4 12 10.4 11.2 13.6 Z" fill="#6a4428"/><circle cx="14.2" cy="13.6" r=".55" fill="#2a1c17"/><circle cx="17.8" cy="13.6" r=".55" fill="#2a1c17"/><path d="M14.4 17 Q16 18.2 17.6 17" stroke="#fff" stroke-width=".7" fill="none"/></svg></div>
<div class="avp" style="left:1017px;top:666px;width:169.3px;height:121.8px"></div>
<div class="t verlo" style="left:1124.4px;top:682.8px">verlo todo</div>
<div class="dot" style="left:1156.3px;top:768.9px"></div>
<div class="dot" style="left:1161.3px;top:768.9px"></div>
<div class="dot" style="left:1166.4px;top:768.9px"></div>
<div class="face" style="left:1039.5px;top:692.2px;width:33.6px;height:33.6px"><svg width="33.6" height="33.6" viewBox="0 0 34 34" style="display:block"><rect width="34" height="34" fill="#eeece8"/><rect x="0" y="6.6" width="34" height="1.2" fill="#fafafa"/><rect x="0" y="17" width="34" height="1.4" fill="#fafafa"/><rect x="9" y="0.6" width="2" height="5.6" fill="#2f6ea8"/><rect x="12" y="1" width="1.6" height="5.2" fill="#e27b3d"/><rect x="19" y="0.6" width="1.8" height="5.6" fill="#e9a070"/><rect x="21.6" y="1" width="1.6" height="5.2" fill="#d9c9b0"/><rect x="24" y="0.8" width="2" height="5.4" fill="#5a9ad0"/><rect x="27" y="1.4" width="1.6" height="4.8" fill="#e27b3d"/><rect x="1.6" y="9" width="2" height="7.6" fill="#e27b3d"/><rect x="4.2" y="9.6" width="1.8" height="7" fill="#d94a3a"/><rect x="6.6" y="9" width="1.6" height="7.6" fill="#e9b090"/><rect x="21.6" y="9" width="2.2" height="7.6" fill="#2f86c8"/><rect x="24.4" y="9.4" width="2.6" height="7.2" fill="#b8653a"/><rect x="27.6" y="9" width="1.8" height="7.6" fill="#e99a60"/><rect x="30" y="9.6" width="1.6" height="7" fill="#ddd"/><rect x="0" y="19" width="6" height="9" fill="#f6f4f0"/><path d="M2.6 36 C3 26 7 21 12 19.4 L19 19.4 C27 20.6 33 25 34 36 Z" fill="#8b918b"/><path d="M11.6 19.4 L15.3 24 L19 19.4 Z" fill="#d2a080"/><rect x="13" y="16.6" width="4.8" height="4.6" rx="1.6" fill="#cf9e7f"/><ellipse cx="15.3" cy="12" rx="5.6" ry="7.6" fill="#dbab8b"/><path d="M9.7 11.6 Q9.8 20.6 15.3 20.2 Q20.8 20.6 20.9 11.6 Q19.6 16 15.3 15.6 Q11 16 9.7 11.6 Z" fill="#3a2a22"/><path d="M9.5 11 C8.6 0.6 22 0.6 21.1 11 C20 6.4 18 5.2 15.3 5.2 C12.6 5.2 10.6 6.4 9.5 11 Z" fill="#2d211b"/><circle cx="13.1" cy="10.6" r=".6" fill="#2a1c17"/><circle cx="17.5" cy="10.6" r=".6" fill="#2a1c17"/><path d="M13 15.6 Q15.3 17.6 17.6 15.6 Z" fill="#fff"/></svg></div>
<div class="face" style="left:1085.6px;top:691.4px;width:33.6px;height:33.6px"><svg width="33.6" height="33.6" viewBox="0 0 34 34" style="display:block"><rect width="34" height="34" fill="#f5f3f1"/><ellipse cx="13.5" cy="9.6" rx="7.3" ry="6.8" fill="#463022"/><ellipse cx="10" cy="7.4" rx="3" ry="2.6" fill="#5a4030" fill-opacity=".7"/><path d="M1.6 36 C2 27 5.6 21.4 10.6 20 L17 20 C22 21 26 23.6 28 26 L29.8 17.6 L32.4 18.4 L31 30 C30 33 28 35 26 36 Z" fill="#f0eeee"/><path d="M3 36 C3.4 28 6 23 10.6 21" stroke="#dcd8d8" stroke-width=".8" fill="none"/><path d="M14 21 L14.6 34" stroke="#dcd8d8" stroke-width=".7"/><rect x="11.2" y="17.6" width="3.6" height="4" rx="1.4" fill="#7d4e33"/><ellipse cx="13" cy="14.8" rx="3.7" ry="4.7" fill="#8a5a3c"/><path d="M9.2 14 C9 9.6 17 9.6 16.8 14 C15.6 11.8 14.4 11.4 13 11.4 C11.6 11.4 10.4 11.8 9.2 14 Z" fill="#463022"/><ellipse cx="29.4" cy="15.6" rx="2" ry="2.6" fill="#8a5a3c"/><path d="M11.6 17 Q13 18 14.4 17" stroke="#f4eeee" stroke-width=".7" fill="none"/></svg></div>
<div class="face" style="left:1039.5px;top:732.5px;width:33.6px;height:33.6px"><svg width="33.6" height="33.6" viewBox="0 0 34 34" style="display:block"><rect width="34" height="34" fill="#e9e4dc"/><rect x="0" y="0" width="34" height="5" fill="#e6dccb"/><rect x="0" y="5" width="34" height="2" fill="#c9c0b0"/><rect x="1" y="9" width="8.6" height="14" fill="#c9d9e6"/><rect x="4.6" y="9" width=".8" height="14" fill="#f4f4f4"/><rect x="24" y="7" width="10" height="20" fill="#f3f0ec"/><rect x="28" y="10" width="4" height="14" fill="#e2ddd6"/><path d="M9.4 14 C8.6 3.4 24 3.4 23.4 14 C24 19 25.6 24 25 32 L4 33 C4.6 26 8.6 20 9.4 14 Z" fill="#c8742e"/><path d="M6 30 C7 24 9.6 20 10 15 L12 16 L10 31 Z" fill="#dc8a3c"/><rect x="13.8" y="19.6" width="4.6" height="6" rx="1.6" fill="#e6b798"/><path d="M10 36 L11.6 26 L20 25 L22 36 Z" fill="#efc2a4"/><ellipse cx="16.3" cy="14.9" rx="5.4" ry="6.8" fill="#f2c8aa"/><path d="M10.8 14.6 C10.2 6.6 22.4 6.4 21.8 14.4 C20.4 10.6 18.4 9.6 16.2 9.8 C13.8 10 12 11.2 10.8 14.6 Z" fill="#c8742e"/><path d="M12 6.6 h3.6 M17 6.4 h3.6" stroke="#d9c9b0" stroke-width="1.2"/><circle cx="14.2" cy="14" r=".6" fill="#3a2a22"/><circle cx="18.6" cy="14" r=".6" fill="#3a2a22"/><path d="M13.6 17.6 Q16.3 20.2 19 17.6 Z" fill="#fff"/><rect x="13.6" y="26" width="3.6" height="10" fill="#1d1d1d"/><path d="M15.6 24.6 L32 22.6 L32.6 26 L16.4 27.6 Z" fill="#e8c83a"/><path d="M17.6 26.4 L33 24.6 L34 36 L18.6 36 Z" fill="#e0338b"/><path d="M16 25.6 L18 26.2 L19 36 L16.6 36 Z" fill="#e8d43c"/></svg></div>
<div class="face" style="left:1085.6px;top:731.3px;width:33.6px;height:33.6px"><svg width="33.6" height="33.6" viewBox="0 0 34 34" style="display:block"><rect width="34" height="34" fill="#e6e4f0"/><rect x="20" y="0" width="14" height="20" fill="#eceaf4"/><path d="M0 16 C-1 6 8 -1.6 16 0.2 C22 1.6 23.6 8 22.6 14 C23 18 22 22 20 24 L8 30 L2.4 33 C0.4 28 0.6 22 0 16 Z" fill="#130e13"/><path d="M1 36 C1.6 28 5 24.6 10 23.4 L20 21.4 C26 21 32 23 34 27 L34 36 Z" fill="#17121a"/><g transform="rotate(-14 12 14)"><ellipse cx="12.2" cy="14.4" rx="5.5" ry="6.6" fill="#f4d8d0"/><path d="M6.4 13.4 C6 6.4 18.4 6.2 18 13.2 C15 10.2 9.6 10.2 6.4 13.4 Z" fill="#130e13"/><path d="M6.2 13.8 Q12 9.6 18.2 13.4 L18.2 11 L6.2 11 Z" fill="#130e13"/><ellipse cx="9.6" cy="14.6" rx="1.3" ry=".6" fill="#2a2030"/><ellipse cx="15" cy="14.6" rx="1.3" ry=".6" fill="#2a2030"/><ellipse cx="12.6" cy="18.4" rx="1.9" ry=".9" fill="#d4283c"/></g><path d="M2.6 16 Q0.6 24 3 32.6 L8.4 30.6 L6 20 Z" fill="#130e13"/><path d="M19.6 14 Q22.6 19 21.6 25 L18 24 Z" fill="#130e13"/><path d="M11 22 L13 28 L17 22.6 Z" fill="#f0d2ca"/></svg></div>
</div></body></html>
